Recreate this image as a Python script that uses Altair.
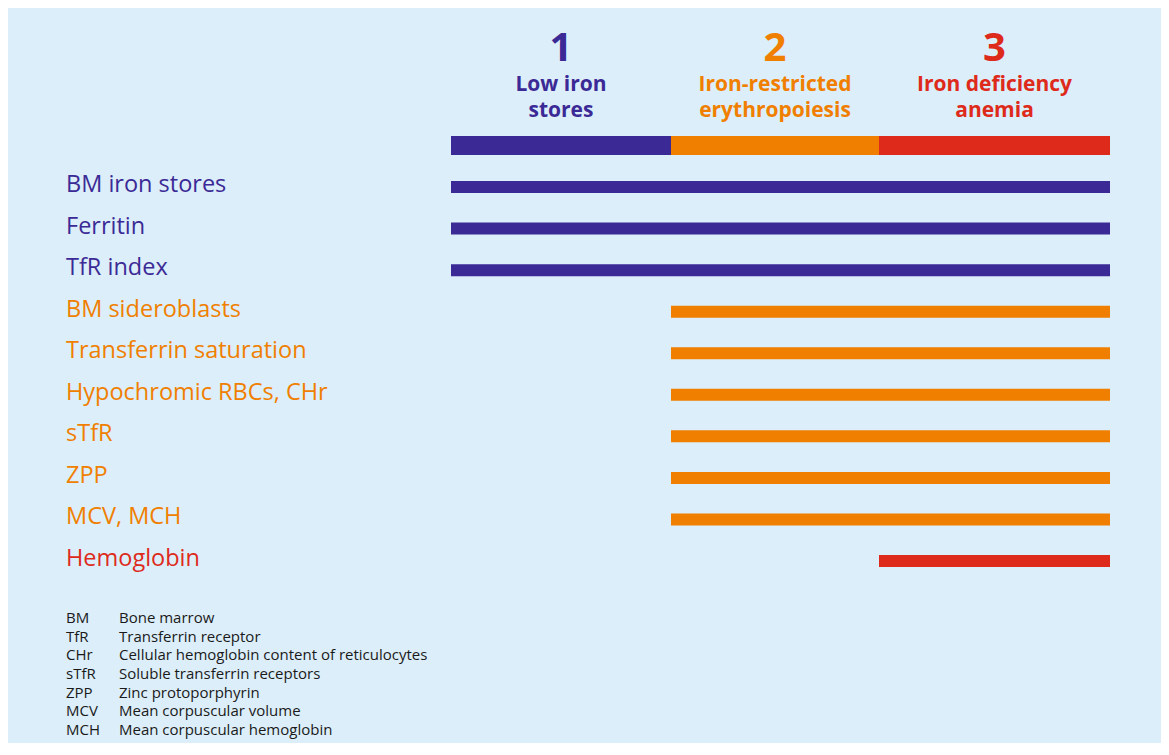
import altair as alt
import pandas as pd

# ---- data ----
stage_ids = [1, 2, 3]
stage_start = [0, 220, 428]          # relative position of each stage start
stage_end = [220, 428, 659]          # relative position of each stage end
stage_numbers = ["1", "2", "3"]
stage_title_1 = ["Low iron", "Iron-restricted", "Iron deficiency"]
stage_title_2 = ["stores", "erythropoiesis", "anemia"]
stage_colors = ["#3B2A96", "#F07F00", "#DE2A1B"]

row_labels = ["BM iron stores", "Ferritin", "TfR index", "BM sideroblasts",
              "Transferrin saturation", "Hypochromic RBCs, CHr", "sTfR", "ZPP",
              "MCV, MCH", "Hemoglobin"]
row_stage = [1, 1, 1, 2, 2, 2, 2, 2, 2, 3]

abbr = ["BM", "TfR", "CHr", "sTfR", "ZPP", "MCV", "MCH"]
meaning = ["Bone marrow", "Transferrin receptor",
           "Cellular hemoglobin content of reticulocytes",
           "Soluble transferrin receptors", "Zinc protoporphyrin",
           "Mean corpuscular volume", "Mean corpuscular hemoglobin"]

FONT = "Open Sans"
BG = "#DCEEF9"
TEXT_DARK = "#1a1a1a"

stages = pd.DataFrame({"stage": stage_ids, "start": stage_start, "end": stage_end,
                       "num": stage_numbers, "t1": stage_title_1, "t2": stage_title_2,
                       "hy": [-1] * 3})
stages["mid"] = (stages["start"] + stages["end"]) / 2

rows = pd.DataFrame({"label": row_labels, "stage": row_stage,
                     "row": list(range(len(row_labels)))})
rows["start"] = rows["stage"].map(dict(zip(stage_ids, stage_start)))
rows["end"] = max(stage_end)

notes = pd.DataFrame({"abbr": abbr, "meaning": meaning, "i": list(range(len(abbr)))})

xscale = alt.Scale(domain=[0, max(stage_end)], nice=False, zero=False)
yscale = alt.Scale(domain=[-1, 9], range=[137.5, 553], nice=False, zero=False)
nscale = alt.Scale(domain=[0, 6], range=[615, 727], nice=False, zero=False)
cscale = alt.Scale(domain=stage_ids, range=stage_colors)
col = alt.Color("stage:O", scale=cscale, legend=None)

header_bar = alt.Chart(stages).mark_rule(strokeWidth=19, strokeCap="butt").encode(
    x=alt.X("start:Q", scale=xscale, axis=None),
    x2="end:Q",
    y=alt.Y("hy:Q", scale=yscale, axis=None),
    color=col,
)

row_bars = alt.Chart(rows).mark_rule(strokeWidth=12, strokeCap="butt").encode(
    x=alt.X("start:Q", scale=xscale, axis=None),
    x2="end:Q",
    y=alt.Y("row:Q", scale=yscale, axis=None),
    color=col,
)

row_text = alt.Chart(rows).mark_text(
    align="left", baseline="alphabetic", dy=5, font=FONT, fontSize=23.5
).encode(
    x=alt.value(-385),
    y=alt.Y("row:Q", scale=yscale, axis=None),
    text="label:N",
    color=col,
)

num_text = alt.Chart(stages).mark_text(
    align="center", baseline="alphabetic", font=FONT, fontSize=40, fontWeight="bold"
).encode(
    x=alt.X("mid:Q", scale=xscale, axis=None),
    y=alt.value(53),
    text="num:N",
    color=col,
)

title1_text = alt.Chart(stages).mark_text(
    align="center", baseline="alphabetic", font=FONT, fontSize=21, fontWeight="bold"
).encode(
    x=alt.X("mid:Q", scale=xscale, axis=None),
    y=alt.value(83),
    text="t1:N",
    color=col,
)

title2_text = alt.Chart(stages).mark_text(
    align="center", baseline="alphabetic", font=FONT, fontSize=21, fontWeight="bold"
).encode(
    x=alt.X("mid:Q", scale=xscale, axis=None),
    y=alt.value(109),
    text="t2:N",
    color=col,
)

abbr_text = alt.Chart(notes).mark_text(
    align="left", baseline="alphabetic", font=FONT, fontSize=15, color=TEXT_DARK
).encode(
    x=alt.value(-385),
    y=alt.Y("i:Q", scale=nscale, axis=None),
    text="abbr:N",
)

mean_text = alt.Chart(notes).mark_text(
    align="left", baseline="alphabetic", font=FONT, fontSize=15, color=TEXT_DARK
).encode(
    x=alt.value(-332),
    y=alt.Y("i:Q", scale=nscale, axis=None),
    text="meaning:N",
)

chart = alt.layer(
    header_bar, row_bars, row_text, num_text, title1_text, title2_text,
    abbr_text, mean_text
).resolve_scale(y="independent").properties(
    width=659, height=735,
    autosize=alt.AutoSizeParams(type="none"),
    padding={"left": 443, "top": 0, "right": 51, "bottom": 0},
    background=BG,
).configure_view(stroke=None)

chart.save("out.html", embed_options={"renderer": "svg", "actions": False})
